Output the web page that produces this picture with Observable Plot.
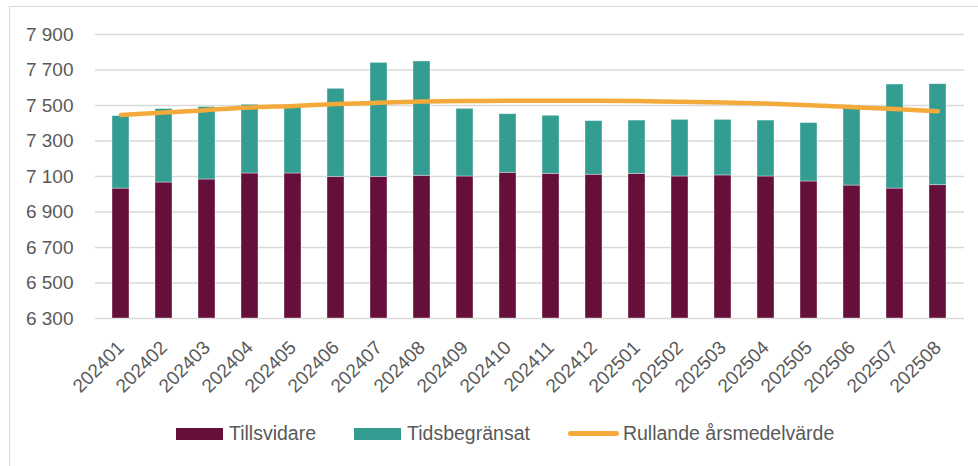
<!DOCTYPE html>
<html>
<head>
<meta charset="utf-8">
<script src="https://cdn.jsdelivr.net/npm/d3@7"></script>
<script src="https://cdn.jsdelivr.net/npm/@observablehq/plot@0.6"></script>
<style>
  html, body { margin: 0; padding: 0; background: #fff; }
  #wrap { position: relative; width: 978px; height: 466px; overflow: hidden; }
  #frame { position: absolute; left: 9px; top: 6px; width: 1000px; height: 500px;
           border-left: 1.5px solid #d9d9d9; border-top: 1.5px solid #d9d9d9; pointer-events: none; }
  #chart svg text { font-family: "Liberation Sans", Arial, sans-serif; font-size: 19px; fill: #595959; }
  #legend { display: flex; align-items: center; margin-left: 176px; margin-top: 12px;
            font-family: "Liberation Sans", Arial, sans-serif; font-size: 19.5px; color: #595959; }
  .sw { display: inline-block; width: 47px; height: 12px; margin-right: 6px; }
  .ln { display: inline-block; width: 51px; height: 5px; border-radius: 3px; margin-right: 4px; }
  .item { display: flex; align-items: center; margin-right: 38px; }
</style>
</head>
<body>
<div id="wrap">
  <div id="chart"></div>
  <div id="legend"></div>
  <div id="frame"></div>
</div>
<script>
const months = ["202401","202402","202403","202404","202405","202406","202407","202408","202409","202410","202411","202412","202501","202502","202503","202504","202505","202506","202507","202508"];
const tillsvidare = [7032, 7066, 7083, 7117, 7117, 7098, 7098, 7104, 7100, 7121, 7115, 7110, 7115, 7100, 7106, 7100, 7072, 7049, 7032, 7051];
const tidsbegransat = [408, 414, 408, 387, 378, 496, 642, 644, 381, 330, 327, 302, 300, 319, 313, 315, 329, 451, 586, 569];
const rullande = [7447, 7460, 7474, 7489, 7497, 7508, 7515, 7522, 7525, 7527, 7527, 7527, 7525, 7521, 7517, 7511, 7502, 7491, 7480, 7468];
const yTicks = [6300, 6500, 6700, 6900, 7100, 7300, 7500, 7700, 7900];
const seriesNames = ["Tillsvidare", "Tidsbegränsat", "Rullande årsmedelvärde"];
const seriesColors = ["#660F3A", "#349D92", "#F4A93B"];

const yMin = yTicks[0], yMax = yTicks[yTicks.length - 1];
const barRows = [];
months.forEach((m, i) => {
  barRows.push({month: m, series: seriesNames[0], y1: yMin, y2: tillsvidare[i]});
  barRows.push({month: m, series: seriesNames[1], y1: tillsvidare[i], y2: tillsvidare[i] + tidsbegransat[i]});
});
const lineRows = months.map((m, i) => ({month: m, value: rullande[i]}));
const fmt = v => d3.format(",")(v).replace(/,/g, " ");

const hasAxisMarks = typeof Plot.axisX === "function";
const marks = [
  Plot.ruleY(yTicks, {stroke: "#d9d9d9", strokeWidth: 1.5}),
  Plot.barY(barRows, {x: "month", y1: "y1", y2: "y2", fill: "series", stroke: "#ffffff", strokeOpacity: 0.45, strokeWidth: 0.8}),
  Plot.line(lineRows, {x: "month", y: "value", stroke: seriesColors[2], strokeWidth: 4.5, curve: "catmull-rom", strokeLinecap: "round"})
];
if (hasAxisMarks) {
  marks.push(Plot.axisX({tickSize: 0, tickRotate: -45, tickPadding: 26, label: null}));
  marks.push(Plot.axisY({ticks: yTicks, tickFormat: fmt, tickSize: 0, tickPadding: 22, label: null}));
}

const chart = Plot.plot({
  width: 978,
  height: 410,
  marginLeft: 95,
  marginRight: 14,
  marginTop: 34,
  marginBottom: 92,
  x: {domain: months, paddingInner: 0.6, paddingOuter: 0.3, label: null, tickSize: 0, tickRotate: -45, tickPadding: 26},
  y: {domain: [yMin, yMax], ticks: yTicks, tickFormat: fmt, label: null, tickSize: 0, tickPadding: 22},
  color: {domain: seriesNames, range: seriesColors},
  marks
});
document.getElementById("chart").appendChild(chart);

const legend = document.getElementById("legend");
seriesNames.forEach((name, i) => {
  const item = document.createElement("div");
  item.className = "item";
  const sw = document.createElement("span");
  sw.className = i === 2 ? "ln" : "sw";
  sw.style.background = seriesColors[i];
  const t = document.createElement("span");
  t.textContent = name;
  item.appendChild(sw);
  item.appendChild(t);
  legend.appendChild(item);
});
</script>
</body>
</html>
